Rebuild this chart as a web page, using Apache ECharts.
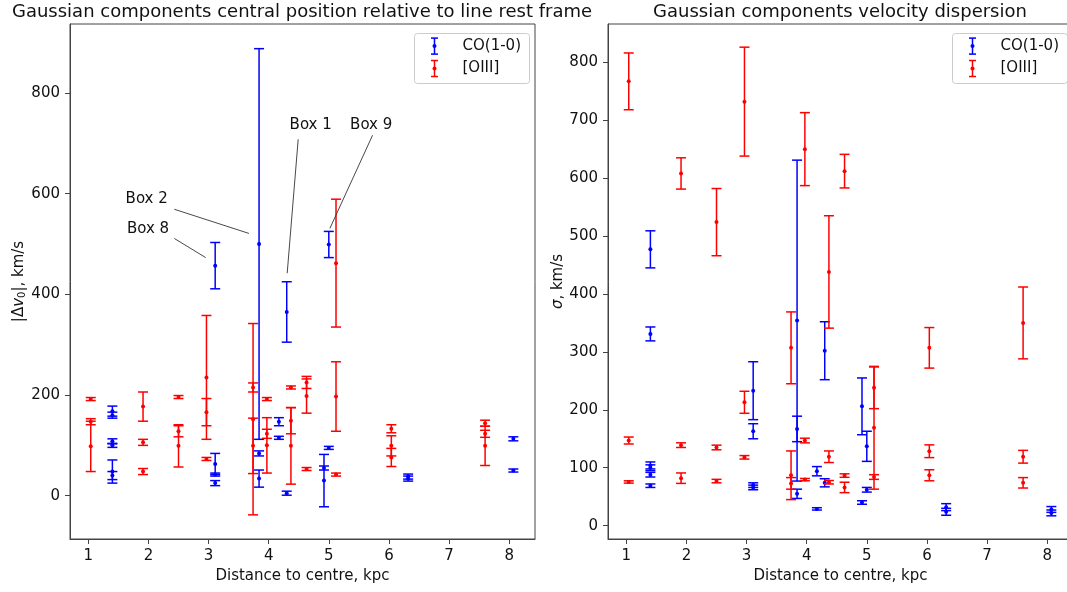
<!DOCTYPE html>
<html>
<head>
<meta charset="utf-8">
<script src="https://cdn.jsdelivr.net/npm/echarts@6/dist/echarts.min.js"></script>
<style>
html,body{margin:0;padding:0;background:#fff;}
#chart{width:1067px;height:592px;}
</style>
</head>
<body>
<div id="chart"></div>
<script>
// ---------------- data ----------------
// CO(1-0) components: distance (kpc), |Δv0| ± err, σ ± err
const coX        = [1.40,1.40,1.40,1.40,1.40,1.40, 3.11,3.11,3.11,3.11, 3.84,3.84,3.84, 4.17,4.17, 4.30,4.30, 4.92,4.92, 5.00,5.00, 6.32,6.32, 8.07,8.07];
const coV0       = [168,160,108,100,48,40, 457,63,42,25, 500,84,34, 147,115, 365,5, 55,30, 499,95, 38,34, 113,50];
const coV0Err    = [10,6,5,4,23,8, 46,21,3,5, 388,5,17, 8,3, 60,4, 4,52, 26,3, 5,5, 4,3];
const coSigma    = [477,331,104,100,88,69, 233,163,70,66, 354,167,55, 94,29, 302,74, 206,40, 137,62, 32,24, 28,22];
const coSigmaErr = [32,12,6,5,4,3, 50,13,4,4, 277,22,8, 8,2, 50,7, 49,3, 26,4, 6,6, 5,5];

// [OIII] components
const oiiiX        = [1.04,1.04,1.04, 1.91,1.91,1.91, 2.50,2.50,2.50, 2.965,2.965,2.965, 3.74,3.74,3.74, 3.97,3.97,3.97, 4.37,4.37,4.37, 4.63,4.63,4.63, 5.12,5.12,5.12, 6.04,6.04,6.04, 7.60,7.60,7.60];
const oiiiV0       = [192,147,98, 177,106,48, 196,128,99, 235,166,73, 215,152,99, 192,123,100, 215,149,99, 225,198,53, 462,197,42, 133,99,76, 144,123,99];
const oiiiV0Err    = [3,6,50, 29,6,6, 3,11,42, 123,27,3, 9,190,55, 3,9,55, 3,26,76, 12,34,3, 127,69,3, 8,20,18, 6,7,39];
const oiiiSigma    = [767,147,75.5, 608,139,82, 524,135,77, 732,213,118, 307,87,73, 650,147,79.5, 438,119,75, 612,86.5,66, 238,169,84, 307,128.5,87, 350,119,74];
const oiiiSigmaErr = [49,6,2, 27,4,9, 58,4,3, 94,19,3, 62,42,10, 63,4,2, 97,10,3, 29,3,9, 36,106,4, 35,11,9.5, 62,11,9];

// tick labels
const xTicks      = [1,2,3,4,5,6,7,8];
const yTicksLeft  = [0,200,400,600,800];
const yTicksRight = [0,100,200,300,400,500,600,700,800];

// annotations (data coordinates of left panel)
const annotLabel  = ['Box 2','Box 8','Box 1','Box 9'];
const annotTextX  = [1.971, 1.993, 4.699, 5.705];
const annotTextY  = [590, 530, 736, 736];
const annotFromX  = [2.430, 2.430, 4.491, 5.728];
const annotFromY  = [569, 511, 708, 716];
const annotToX    = [3.672, 2.952, 4.308, 5.018];
const annotToY    = [521, 473, 442, 531];

const titles = ['Gaussian components central position relative to line rest frame', 'Gaussian components velocity dispersion'];
const seriesNames = ['CO(1-0)', '[OIII]'];

// ---------------- chart ----------------
const BLUE = '#0000ff', RED = '#ff0000';
const seriesColors = [BLUE, RED];
const FONT = 'DejaVu Sans';
const build = (xs, ys, es) => xs.map((x, i) => [x, ys[i], es[i]]);

function errRender(params, api) {
  const x = api.value(0), y = api.value(1), e = api.value(2);
  const p = api.coord([x, y]);
  const t = api.coord([x, y + e]);
  const b = api.coord([x, y - e]);
  const color = api.visual('color');
  const cap = 5;
  const ls = {stroke: color, lineWidth: 1.5};
  return {
    type: 'group',
    children: [
      {type: 'line', shape: {x1: p[0], y1: t[1], x2: p[0], y2: b[1]}, style: ls},
      {type: 'line', shape: {x1: p[0] - cap, y1: t[1], x2: p[0] + cap, y2: t[1]}, style: ls},
      {type: 'line', shape: {x1: p[0] - cap, y1: b[1], x2: p[0] + cap, y2: b[1]}, style: ls},
      {type: 'circle', shape: {cx: p[0], cy: p[1], r: 2}, style: {fill: color}}
    ]
  };
}

function annotRender(params, api) {
  const t = api.coord([api.value(0), api.value(1)]);
  const f = api.coord([api.value(2), api.value(3)]);
  const e = api.coord([api.value(4), api.value(5)]);
  return {
    type: 'group',
    children: [
      {type: 'line', shape: {x1: f[0], y1: f[1], x2: e[0], y2: e[1]}, style: {stroke: '#333', lineWidth: 0.9}},
      {type: 'text', x: t[0], y: t[1], style: {text: annotLabel[params.dataIndex], fill: '#111', font: '15px "DejaVu Sans"', align: 'center', verticalAlign: 'middle'}}
    ]
  };
}

// legend box drawn as graphic (matplotlib-style errorbar handles)
function legendGraphic(left, top) {
  const children = [{
    type: 'rect', shape: {x: 0, y: 0, width: 115, height: 50, r: 3},
    style: {fill: 'rgba(255,255,255,0.85)', stroke: '#cccccc', lineWidth: 1}
  }];
  seriesNames.forEach((name, i) => {
    const cy = 12.6 + i * 22.4, cx = 20, c = seriesColors[i];
    const ls = {stroke: c, lineWidth: 1.5};
    children.push(
      {type: 'line', shape: {x1: cx, y1: cy - 8, x2: cx, y2: cy + 8}, style: ls},
      {type: 'line', shape: {x1: cx - 3.5, y1: cy - 8, x2: cx + 3.5, y2: cy - 8}, style: ls},
      {type: 'line', shape: {x1: cx - 3.5, y1: cy + 8, x2: cx + 3.5, y2: cy + 8}, style: ls},
      {type: 'circle', shape: {cx: cx, cy: cy, r: 2}, style: {fill: c}},
      {type: 'text', x: 48, y: cy, style: {text: name, fill: '#111', font: '15px "DejaVu Sans"', verticalAlign: 'middle', align: 'left'}}
    );
  });
  return {type: 'group', left: left, top: top, silent: true, z: 100, children: children};
}

function makeXAxis(gi) {
  return {
    type: 'value', gridIndex: gi, min: 0.695, max: 8.43,
    name: 'Distance to centre, kpc', nameLocation: 'middle', nameGap: 30,
    nameTextStyle: {fontSize: 15, color: '#111', fontFamily: FONT},
    axisLine: {show: true, onZero: false, lineStyle: {color: '#444', width: 1}},
    axisTick: {show: true, inside: false, length: 5, lineStyle: {color: '#444', width: 1}, customValues: xTicks},
    axisLabel: {fontSize: 15, color: '#111', fontFamily: FONT, margin: 10, customValues: xTicks},
    splitLine: {show: false}
  };
}

function makeYAxis(gi, min, max, ticks, name, gap) {
  return {
    type: 'value', gridIndex: gi, min: min, max: max,
    name: name, nameLocation: 'middle', nameGap: gap, nameRotate: 90,
    nameTextStyle: {fontSize: 15, color: '#111', fontFamily: FONT,
      rich: {
        i: {fontSize: 15, fontStyle: 'italic', fontFamily: FONT, color: '#111'},
        s: {fontSize: 10, fontFamily: FONT, color: '#111', verticalAlign: 'bottom', padding: [6, 0, 0, 0]}
      }},
    axisLine: {show: true, onZero: false, lineStyle: {color: '#444', width: 1}},
    axisTick: {show: true, inside: false, length: 5, lineStyle: {color: '#444', width: 1}, customValues: ticks},
    axisLabel: {fontSize: 15, color: '#111', fontFamily: FONT, margin: 10, customValues: ticks},
    splitLine: {show: false}
  };
}

const chart = echarts.init(document.getElementById('chart'), null, {renderer: 'canvas'});
chart.setOption({
  animation: false,
  backgroundColor: '#fff',
  textStyle: {fontFamily: FONT},
  title: [
    {text: titles[0], left: 302, top: 3, textAlign: 'center', padding: 0,
     textStyle: {fontSize: 18, fontWeight: 'normal', color: '#111', fontFamily: FONT}},
    {text: titles[1], left: 840, top: 3, textAlign: 'center', padding: 0,
     textStyle: {fontSize: 18, fontWeight: 'normal', color: '#111', fontFamily: FONT}}
  ],
  grid: [
    {left: 70, top: 24, width: 465, height: 515, show: true, borderColor: '#444', borderWidth: 1, backgroundColor: 'transparent', containLabel: false, outerBoundsMode: 'none'},
    {left: 608, top: 24, width: 465, height: 515, show: true, borderColor: '#444', borderWidth: 1, backgroundColor: 'transparent', containLabel: false, outerBoundsMode: 'none'}
  ],
  xAxis: [makeXAxis(0), makeXAxis(1)],
  yAxis: [
    makeYAxis(0, -86, 937, yTicksLeft, '|Δ{i|v}{s|0}|, km/s', 40),
    makeYAxis(1, -23, 866, yTicksRight, '{i|σ}, km/s', 36)
  ],
  graphic: [legendGraphic(414, 33), legendGraphic(952, 33)],
  series: [
    {name: seriesNames[0], type: 'custom', xAxisIndex: 0, yAxisIndex: 0, itemStyle: {color: BLUE},
     renderItem: errRender, encode: {x: 0, y: 1}, data: build(coX, coV0, coV0Err)},
    {name: seriesNames[1], type: 'custom', xAxisIndex: 0, yAxisIndex: 0, itemStyle: {color: RED},
     renderItem: errRender, encode: {x: 0, y: 1}, data: build(oiiiX, oiiiV0, oiiiV0Err)},
    {name: seriesNames[0], type: 'custom', xAxisIndex: 1, yAxisIndex: 1, itemStyle: {color: BLUE},
     renderItem: errRender, encode: {x: 0, y: 1}, data: build(coX, coSigma, coSigmaErr)},
    {name: seriesNames[1], type: 'custom', xAxisIndex: 1, yAxisIndex: 1, itemStyle: {color: RED},
     renderItem: errRender, encode: {x: 0, y: 1}, data: build(oiiiX, oiiiSigma, oiiiSigmaErr)},
    {name: 'annotations', type: 'custom', xAxisIndex: 0, yAxisIndex: 0, silent: true,
     renderItem: annotRender, encode: {x: 0, y: 1},
     data: annotLabel.map((l, i) => [annotTextX[i], annotTextY[i], annotFromX[i], annotFromY[i], annotToX[i], annotToY[i]])}
  ]
});
</script>
</body>
</html>
